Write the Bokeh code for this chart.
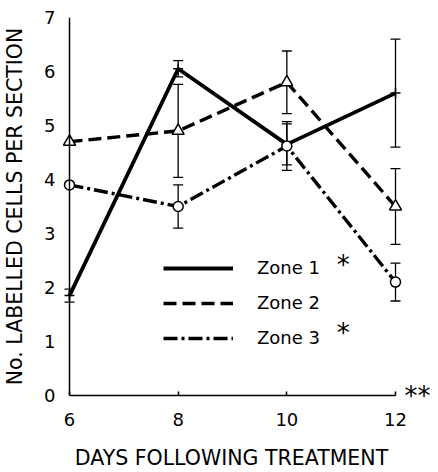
from bokeh.plotting import figure
from bokeh.models import (Range1d, FixedTicker, Whisker, TeeHead, ColumnDataSource,
                          Legend, LegendItem, Label, LinearAxis, Span)
from bokeh.embed import file_html
from bokeh.resources import INLINE

# ---- data ----
days = [6, 8, 10, 12]
zone1 = [1.85, 6.05, 4.65, 5.6]
zone1_err = [0.12, 0.15, 0.38, 1.0]
zone2 = [4.7, 4.9, 5.8, 3.5]
zone2_err = [0.0, 0.86, 0.58, 0.7]
zone3 = [3.9, 3.5, 4.62, 2.1]
zone3_err = [0.0, 0.4, 0.45, 0.35]
zone_names = ["Zone 1", "Zone 2", "Zone 3"]
y_ticks = [0, 1, 2, 3, 4, 5, 6, 7]
x_ticks = [6, 8, 10, 12]
x_title = "DAYS FOLLOWING TREATMENT"
y_title = "No. LABELLED CELLS PER SECTION"
overall_mark = "**"

FONT = "DejaVu Sans"

p = figure(width=438, height=472, output_backend="svg", toolbar_location=None,
           x_range=Range1d(5.8344, 12.1288), y_range=Range1d(0, 7),
           x_axis_type=None, y_axis_type=None,
           min_border_left=60, min_border_right=36, min_border_top=17, min_border_bottom=77)
p.outline_line_color = None
p.grid.visible = False

yaxis = LinearAxis(ticker=FixedTicker(ticks=y_ticks), axis_line_color=None,
                   major_tick_out=0, major_tick_in=0, minor_tick_out=0, minor_tick_in=0,
                   major_label_standoff=5,
                   major_label_text_font=FONT, major_label_text_font_size="18px",
                   major_label_text_color="black",
                   axis_label=y_title, axis_label_standoff=14,
                   axis_label_text_font=FONT, axis_label_text_font_size="20.5px",
                   axis_label_text_font_style="normal", axis_label_text_color="black")
p.add_layout(yaxis, "left")
# the y axis line itself, drawn at x = 6
p.add_layout(Span(location=days[0], dimension="height", line_color="black", line_width=1.5))

xaxis = LinearAxis(bounds=(6, 12), ticker=FixedTicker(ticks=x_ticks),
                   major_tick_out=0, major_tick_in=4, minor_tick_out=0, minor_tick_in=0,
                   major_label_standoff=17, axis_line_width=1.5, major_tick_line_width=1.5,
                   major_label_text_font=FONT, major_label_text_font_size="18px",
                   major_label_text_color="black",
                   axis_label=x_title, axis_label_standoff=17,
                   axis_label_text_font=FONT, axis_label_text_font_size="20.5px",
                   axis_label_text_font_style="normal", axis_label_text_color="black")
p.add_layout(xaxis, "below")

# "**" beside the end of the x axis
raxis = LinearAxis(ticker=FixedTicker(ticks=[0]), major_label_overrides={0: overall_mark},
                   axis_line_color=None, major_tick_out=0, major_tick_in=0,
                   minor_tick_out=0, minor_tick_in=0, major_label_standoff=2,
                   major_label_text_font=FONT, major_label_text_font_size="26px",
                   major_label_text_color="black")
p.add_layout(raxis, "right")

series = [
    (zone1, zone1_err, "solid", "cross", 10, 3.8),
    (zone2, zone2_err, "13 6", "triangle", 12, 3.4),
    (zone3, zone3_err, "14 4 3 4", "circle", 10, 3.4),
]
items = []
for name, (vals, errs, dash, marker, msize, lw) in zip(zone_names, series):
    src = ColumnDataSource(dict(x=days, y=vals))
    lr = p.line("x", "y", source=src, line_color="black", line_width=lw, line_dash=dash)
    ex = [d for d, e in zip(days, errs) if e > 0]
    ey = [v for v, e in zip(vals, errs) if e > 0]
    ee = [e for e in errs if e > 0]
    wsrc = ColumnDataSource(dict(x=ex, upper=[a + b for a, b in zip(ey, ee)],
                                 lower=[a - b for a, b in zip(ey, ee)]))
    w = Whisker(source=wsrc, base="x", upper="upper", lower="lower",
                line_color="black", line_width=1.3, level="underlay",
                upper_head=TeeHead(size=10, line_width=1.3, line_color="black"),
                lower_head=TeeHead(size=10, line_width=1.3, line_color="black"))
    p.add_layout(w)
    fill = None if marker == "cross" else "white"
    p.scatter("x", "y", source=src, marker=marker, size=msize, line_color="black",
              line_width=1.5, fill_color=fill)
    items.append(LegendItem(label=name, renderers=[lr]))

legend = Legend(items=items, location=(103, 47), orientation="vertical",
                glyph_width=70, glyph_height=20, label_standoff=24, label_height=20,
                spacing=14, padding=0, margin=0, border_line_color=None,
                background_fill_alpha=0, label_text_font=FONT, label_text_font_size="18px",
                label_text_color="black")
p.add_layout(legend)

# significance asterisks next to the legend entries
for (ax, ay, txt) in [(11.04, 2.41, "*"), (11.04, 1.15, "*")]:
    p.add_layout(Label(x=ax, y=ay, text=txt, text_font=FONT, text_font_size="26px",
                       text_align="center", text_baseline="middle", text_color="black"))

open("out.html", "w").write(file_html(p, INLINE))
